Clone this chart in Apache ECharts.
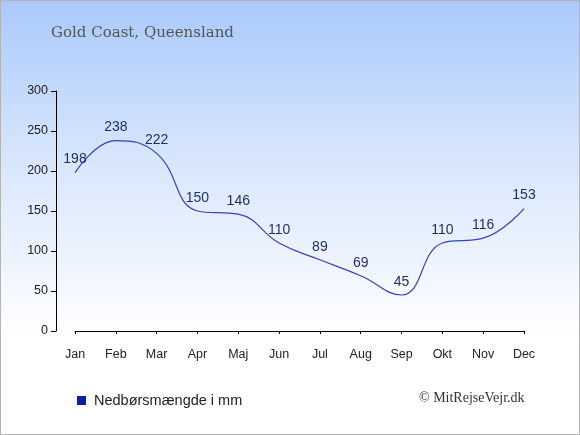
<!DOCTYPE html>
<html>
<head>
<meta charset="utf-8">
<script src="https://cdn.jsdelivr.net/npm/echarts@6/dist/echarts.min.js"></script>
<style>
html, body { margin: 0; padding: 0; }
#chart { width: 580px; height: 435px; box-sizing: border-box; border: 1px solid #b4b4b4;
  background: linear-gradient(to bottom, #a9c9fc 0%, #d6e5fd 35%, #ffffff 78%, #ffffff 100%); }
</style>
</head>
<body>
<div id="chart"></div>
<script>
// måneder og nedbør
var months = ['Jan', 'Feb', 'Mar', 'Apr', 'Maj', 'Jun', 'Jul', 'Aug', 'Sep', 'Okt', 'Nov', 'Dec'];
var rain = [198, 238, 222, 150, 146, 110, 89, 69, 45, 110, 116, 153];
var yTicks = [0, 50, 100, 150, 200, 250, 300];

var chart = echarts.init(document.getElementById('chart'));

var option = {
    animation: false,
    title: {
        text: 'Gold Coast, Queensland',
        left: 50,
        top: 25,
        padding: 0,
        textStyle: {
            fontFamily: 'DejaVu Serif',
            fontWeight: 'normal',
            fontSize: 15,
            color: '#555555'
        }
    },
    legend: {
        left: 76,
        top: 392,
        padding: 0,
        icon: 'rect',
        itemWidth: 9,
        itemHeight: 9,
        textStyle: { fontFamily: 'Liberation Sans', fontSize: 14.5, color: '#222222', padding: [0, 0, 0, 3] },
        data: [{ name: 'Nedbørsmængde i mm', itemStyle: { color: '#0a1ea8' } }]
    },
    graphic: [{
        type: 'text',
        left: 418,
        top: 390,
        style: {
            text: '© MitRejseVejr.dk',
            font: '14px "Liberation Serif"',
            fill: '#333333'
        }
    }],
    grid: { left: 74, right: 55, top: 90, bottom: 103 },
    xAxis: {
        type: 'category',
        data: months,
        boundaryGap: false,
        offset: 10,
        axisLine: { lineStyle: { color: '#000000', width: 1 } },
        axisTick: { length: 3, alignWithLabel: true, lineStyle: { color: '#000' } },
        axisLabel: { fontFamily: 'Liberation Sans', fontSize: 12.5, color: '#222222', margin: 7 }
    },
    yAxis: {
        type: 'value',
        min: yTicks[0],
        max: yTicks[yTicks.length - 1],
        interval: 50,
        offset: 19,
        splitLine: { show: false },
        axisLine: { show: true, lineStyle: { color: '#000000', width: 1 } },
        axisTick: { show: true, length: 5, lineStyle: { color: '#000' } },
        axisLabel: { fontFamily: 'Liberation Sans', fontSize: 12.5, color: '#222222', margin: 8 }
    },
    series: [{
        name: 'Nedbørsmængde i mm',
        type: 'line',
        data: rain,
        smooth: 0.45,
        symbol: 'circle',
        symbolSize: 0,
        showSymbol: true,
        lineStyle: { color: '#3542b8', width: 1.2 },
        itemStyle: { color: '#0a1ea8' },
        label: {
            show: true,
            position: 'top',
            distance: 6,
            fontFamily: 'Liberation Sans',
            fontSize: 14,
            color: '#1c2d5e'
        }
    }]
};
chart.setOption(option);
</script>
</body>
</html>
